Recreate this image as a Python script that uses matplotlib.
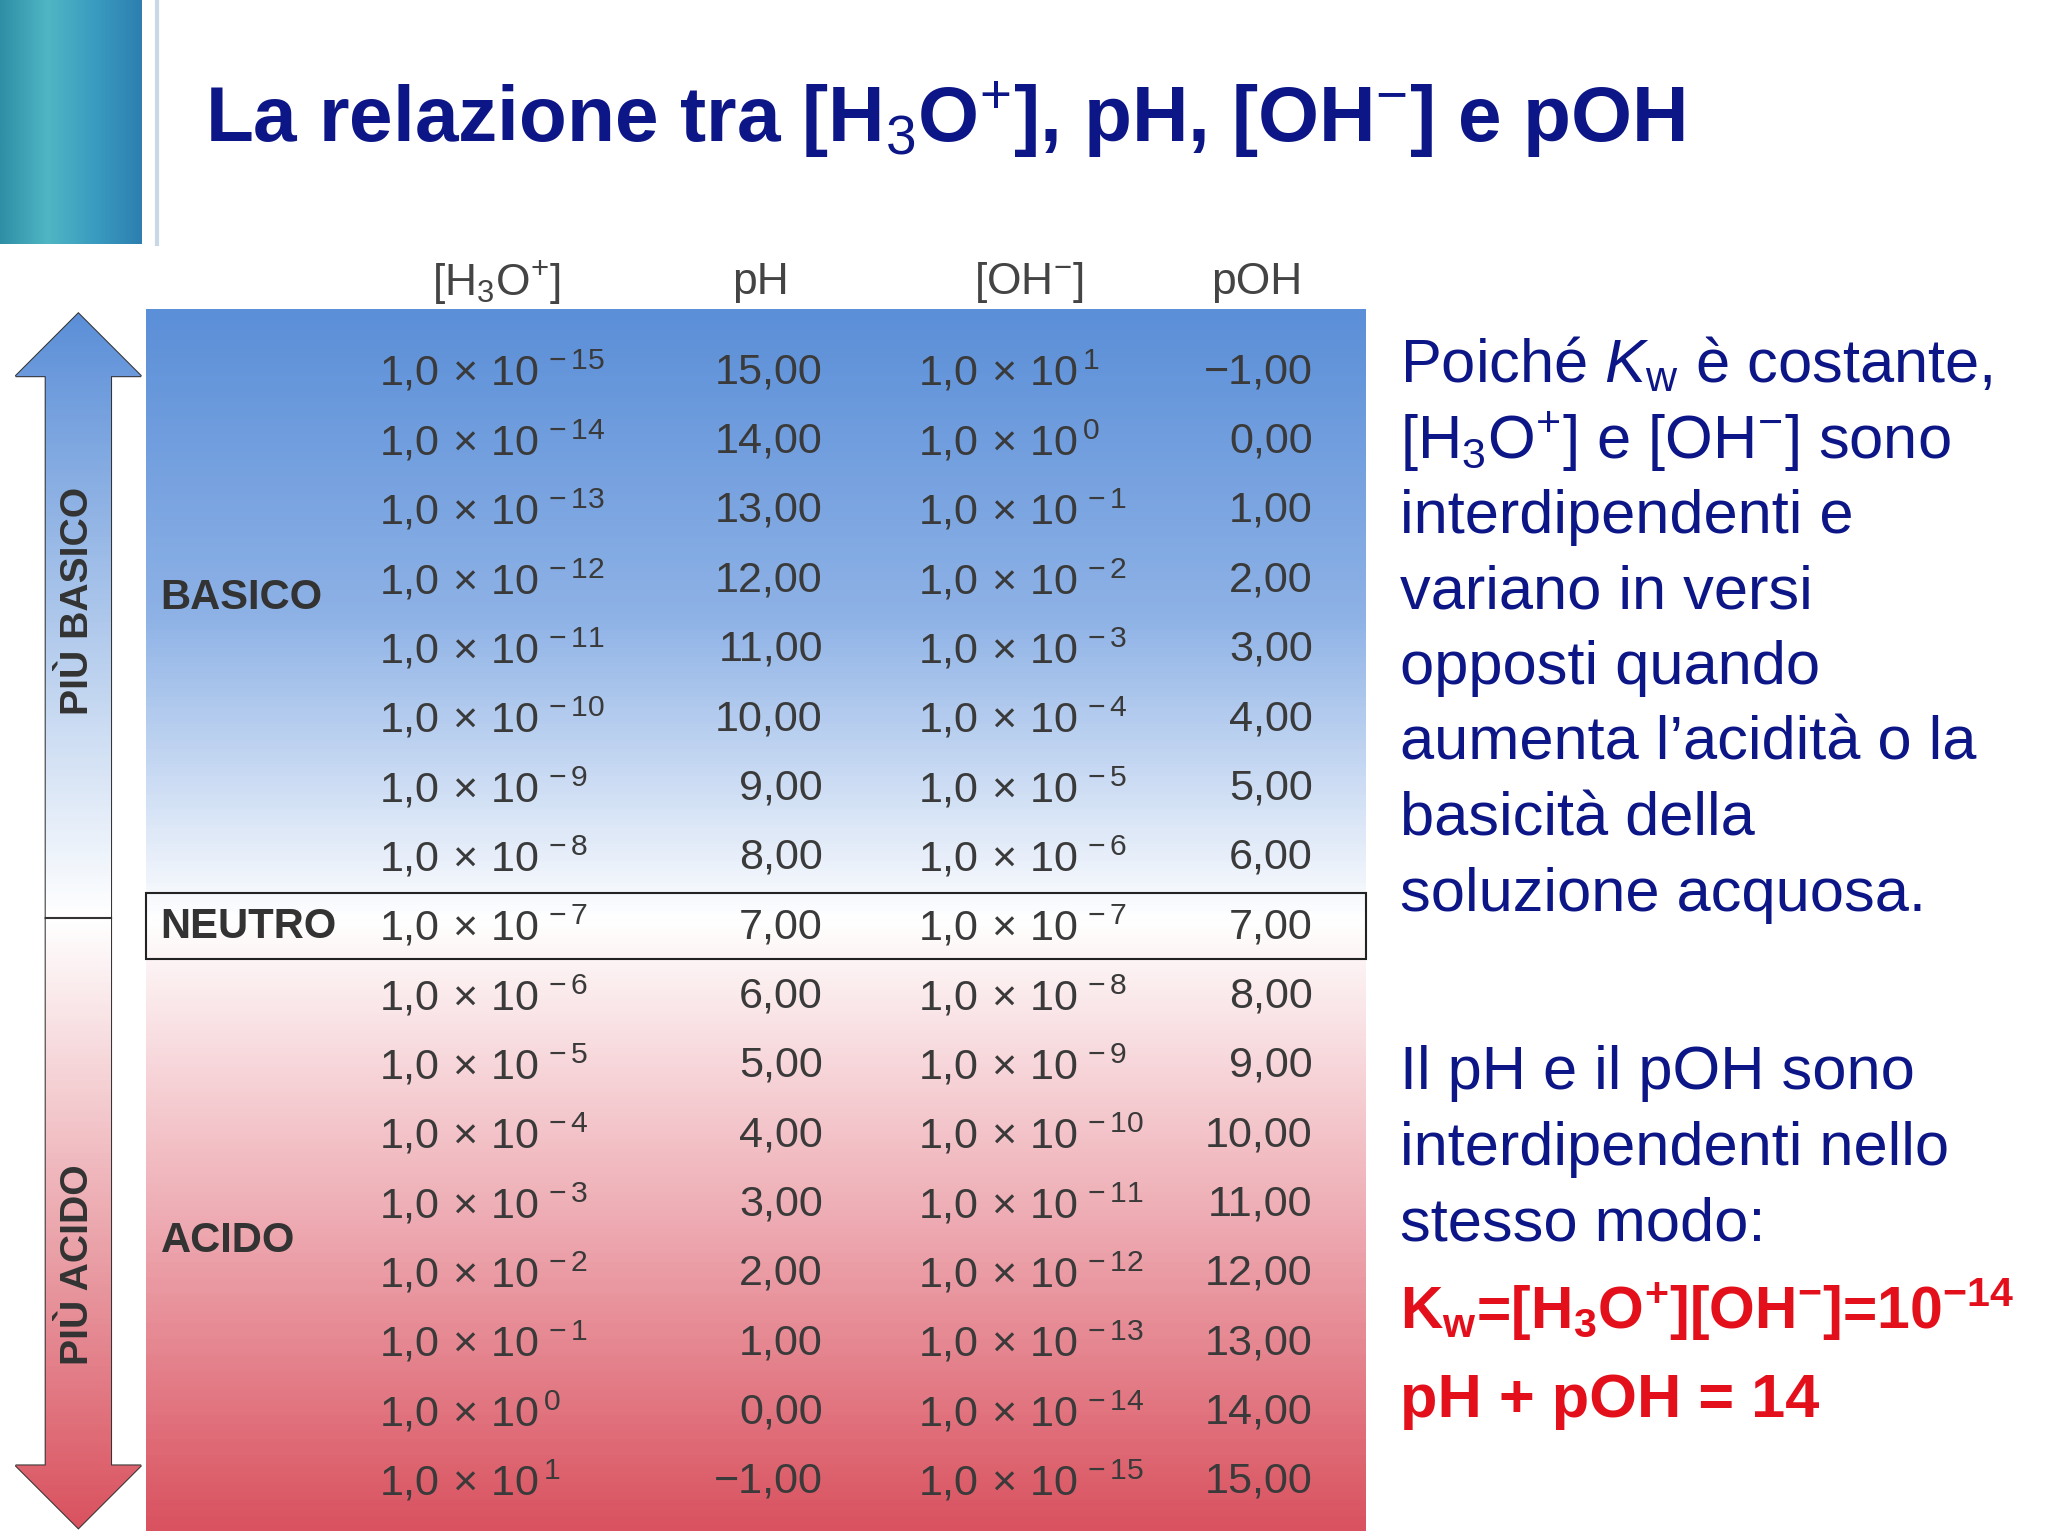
import numpy as np
import matplotlib
matplotlib.use("Agg")
import matplotlib.pyplot as plt
from matplotlib.colors import LinearSegmentedColormap
from matplotlib.patches import Rectangle, Polygon

plt.rcParams['font.family'] = ['Liberation Sans', 'DejaVu Sans']
plt.rcParams['mathtext.fontset'] = 'custom'
plt.rcParams['mathtext.rm'] = 'Liberation Sans'
plt.rcParams['mathtext.it'] = 'Liberation Sans:italic'
plt.rcParams['mathtext.bf'] = 'Liberation Sans:bold'

# ---- data ----
h3o_exp = [-15, -14, -13, -12, -11, -10, -9, -8, -7, -6, -5, -4, -3, -2, -1, 0, 1]
ph_vals = [15, 14, 13, 12, 11, 10, 9, 8, 7, 6, 5, 4, 3, 2, 1, 0, -1]
oh_exp = [1, 0, -1, -2, -3, -4, -5, -6, -7, -8, -9, -10, -11, -12, -13, -14, -15]
poh_vals = [-1, 0, 1, 2, 3, 4, 5, 6, 7, 8, 9, 10, 11, 12, 13, 14, 15]
headers = [r'[H$_3$O$^{+}$]', 'pH', r'[OH$^{-}$]', 'pOH']
groups = ['BASICO', 'NEUTRO', 'ACIDO']

W, H = 1568, 1176
fig = plt.figure(figsize=(20.48, 15.36), dpi=100)
ax = fig.add_axes([0, 0, 1, 1])
ax.set_xlim(0, W); ax.set_ylim(H, 0); ax.axis('off')
s = 2048 / W

def fs(px):
    return px * s * 0.72

def sci(e):
    return r'1,0$\,\times\,$10$^{\,%s}$' % (str(e) if e >= 0 else '-%d' % -e)

def num(v):
    return ('%.2f' % v).replace('.', ',').replace('-', '\u2212')

# decorative top-left block
grad = np.linspace(0, 1, 100).reshape(1, -1)
cm_deco = LinearSegmentedColormap.from_list('d', ['#2f8fa6', '#4fb6c4', '#3a9cc0', '#2d7fb0'])
ax.imshow(grad, cmap=cm_deco, extent=[0, 108, 187, 0], aspect='auto', zorder=1)
ax.plot([120, 120], [0, 187], color='#c9d8e6', lw=3, zorder=1)

# title
ax.text(157, 92, r'La relazione tra [H$_3$O$^{+}$], pH, [OH$^{-}$] e pOH',
        fontsize=fs(60), fontweight='bold', color='#0d1687', va='center', ha='left')

# table gradient
y_top, y_bot = 237, 1172
cm = LinearSegmentedColormap.from_list('t', [(0, '#5b8fd8'), (0.25, '#8eb2e6'),
                                              (0.5, '#ffffff'), (0.75, '#eeaab2'), (1, '#d9525f')])
vals = np.linspace(0, 1, 400).reshape(-1, 1)
ax.imshow(vals, cmap=cm, extent=[112, 1046, y_bot, y_top], aspect='auto', zorder=1)
ax.add_patch(Rectangle((112, 684), 934, 50, fill=False, ec='#222222', lw=1.5, zorder=3))

col_x = [380, 582, 788, 962]
for x, h in zip(col_x, headers):
    ax.text(x, 216, h, fontsize=fs(34), color='#444444', ha='center', va='center')

row0, dy = 285, 53.1
tc = '#3a3a3a'
for i in range(len(ph_vals)):
    y = row0 + i * dy
    ax.text(290, y, sci(h3o_exp[i]), fontsize=fs(33), color=tc, ha='left', va='center')
    ax.text(630, y, num(ph_vals[i]), fontsize=fs(33), color=tc, ha='right', va='center')
    ax.text(703, y, sci(oh_exp[i]), fontsize=fs(33), color=tc, ha='left', va='center')
    ax.text(1005, y, num(poh_vals[i]), fontsize=fs(33), color=tc, ha='right', va='center')

for g, y in zip(groups, [458, 710, 950]):
    ax.text(123, y, g, fontsize=fs(32), fontweight='bold', color='#333333', ha='left', va='center')

# double arrow
up = Polygon([[12, 288], [60, 240], [108, 288], [85, 288], [85, 703], [35, 703], [35, 288]],
             closed=True, fc='#5f97da', ec='#333333', lw=1.5, zorder=2)
dn = Polygon([[35, 703], [85, 703], [85, 1122], [108, 1122], [60, 1170], [12, 1122], [35, 1122]],
             closed=True, fc='#e07a84', ec='#333333', lw=1.5, zorder=2)
ax.add_patch(up); ax.add_patch(dn)
ag = np.linspace(0, 1, 200).reshape(-1, 1)
im1 = ax.imshow(ag, cmap=LinearSegmentedColormap.from_list('a', ['#5b8fd8', '#ffffff']),
                extent=[12, 108, 703, 240], aspect='auto', zorder=2)
im1.set_clip_path(up)
im2 = ax.imshow(ag, cmap=LinearSegmentedColormap.from_list('b', ['#ffffff', '#d9525f']),
                extent=[12, 108, 1170, 703], aspect='auto', zorder=2)
im2.set_clip_path(dn)
ax.plot([35, 85], [703, 703], color='#333333', lw=1.5, zorder=3)
ax.text(60, 460, 'PIÙ BASICO', rotation=90, fontsize=fs(30), fontweight='bold',
        color='#333333', ha='center', va='center', zorder=4)
ax.text(60, 968, 'PIÙ ACIDO', rotation=90, fontsize=fs(30), fontweight='bold',
        color='#333333', ha='center', va='center', zorder=4)

# right text
blue = '#0d1687'
lines = [r'Poiché $\mathit{K}_{\mathrm{w}}$ è costante,',
         r'[H$_3$O$^{+}$] e [OH$^{-}$] sono',
         'interdipendenti e', 'variano in versi', 'opposti quando',
         'aumenta l’acidità o la', 'basicità della', 'soluzione acquosa.']
for i, t in enumerate(lines):
    ax.text(1072, 280 + i * 58, t, fontsize=fs(47), color=blue, ha='left', va='center')
lines2 = ['Il pH e il pOH sono', 'interdipendenti nello', 'stesso modo:']
for i, t in enumerate(lines2):
    ax.text(1072, 822 + i * 58, t, fontsize=fs(47), color=blue, ha='left', va='center')
red = '#e3101c'
ax.text(1072, 1003, r'K$_\mathbf{w}$=[H$_\mathbf{3}$O$^\mathbf{+}$][OH$^\mathbf{-}$]=10$^\mathbf{-14}$',
        fontsize=fs(45), fontweight='bold', color=red, ha='left', va='center')
ax.text(1072, 1073, 'pH + pOH = 14', fontsize=fs(47), fontweight='bold', color=red,
        ha='left', va='center')

fig.savefig('out.png', dpi=100)
